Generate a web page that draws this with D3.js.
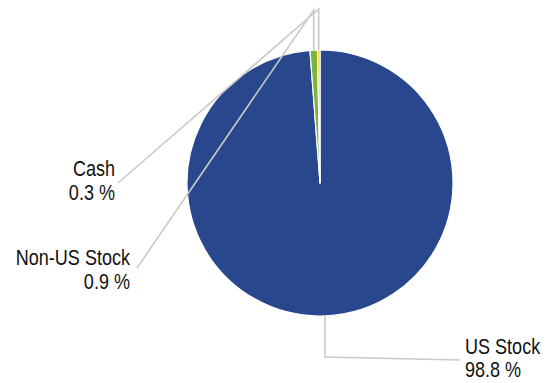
<!DOCTYPE html>
<html>
<head>
<meta charset="utf-8">
<script src="https://cdn.jsdelivr.net/npm/d3@7"></script>
<style>
  html, body { margin: 0; padding: 0; background: #fff; }
  svg { display: block; }
  text { font-family: "Liberation Sans", Arial, sans-serif; fill: #111; }
</style>
</head>
<body>
<svg id="chart" width="546" height="383"></svg>
<script>
// Asset allocation
const categories = ["US Stock", "Non-US Stock", "Cash"];
const values = [98.8, 0.9, 0.3];
const valueLabels = ["98.8 %", "0.9 %", "0.3 %"];
const colors = ["#29478D", "#78B43E", "#F0C419"];

const width = 546, height = 383;
const cx = 320, cy = 183, radius = 133;

// Label placement: elbow height (y of the bend), line end point, text anchor
const labelLayout = [
  { elbowY: 357, end: [460, 360], text: [465, 353.5], anchor: "start" },
  { elbowY: 10,  end: [137, 268], text: [130, 265],   anchor: "end" },
  { elbowY: 9,   end: [118, 183], text: [115, 176],   anchor: "end" }
];

const svg = d3.select("#chart");
const g = svg.append("g").attr("transform", `translate(${cx},${cy})`);

const pie = d3.pie().sort(null).value(d => d.value).startAngle(0).endAngle(2 * Math.PI);
const data = categories.map((c, i) => ({ name: c, value: values[i], label: valueLabels[i], color: colors[i], layout: labelLayout[i] }));
const arcs = pie(data);

const arc = d3.arc().innerRadius(0).outerRadius(radius);
const edge = d3.arc().innerRadius(radius).outerRadius(radius);

g.selectAll("path.slice")
  .data(arcs)
  .join("path")
  .attr("class", "slice")
  .attr("d", arc)
  .attr("fill", d => d.data.color)
  .attr("stroke", "#fff")
  .attr("stroke-width", 1.2)
  .attr("stroke-linejoin", "round");

// Leader lines: from the slice's outer edge, vertical to the elbow, then to the label
const line = d3.line();
svg.selectAll("path.leader")
  .data(arcs)
  .join("path")
  .attr("class", "leader")
  .attr("d", d => {
    const [ex, ey] = edge.centroid(d);
    const x0 = cx + ex, y0 = cy + ey;
    const L = d.data.layout;
    return line([[x0, y0], [x0, L.elbowY], L.end]);
  })
  .attr("fill", "none")
  .attr("stroke", "#C9C9C9")
  .attr("stroke-width", 1.6);

// Labels (two lines: category name and percentage), narrowed horizontally
const fontSize = 22, squeeze = 0.82, lineGap = 24;
const labels = svg.selectAll("g.label")
  .data(arcs)
  .join("g")
  .attr("class", "label")
  .attr("transform", d => `translate(${d.data.layout.text[0]},${d.data.layout.text[1]}) scale(${squeeze},1)`);

labels.append("text")
  .attr("text-anchor", d => d.data.layout.anchor)
  .attr("font-size", fontSize)
  .text(d => d.data.name);

labels.append("text")
  .attr("y", lineGap)
  .attr("text-anchor", d => d.data.layout.anchor)
  .attr("font-size", fontSize)
  .text(d => d.data.label);
</script>
</body>
</html>
